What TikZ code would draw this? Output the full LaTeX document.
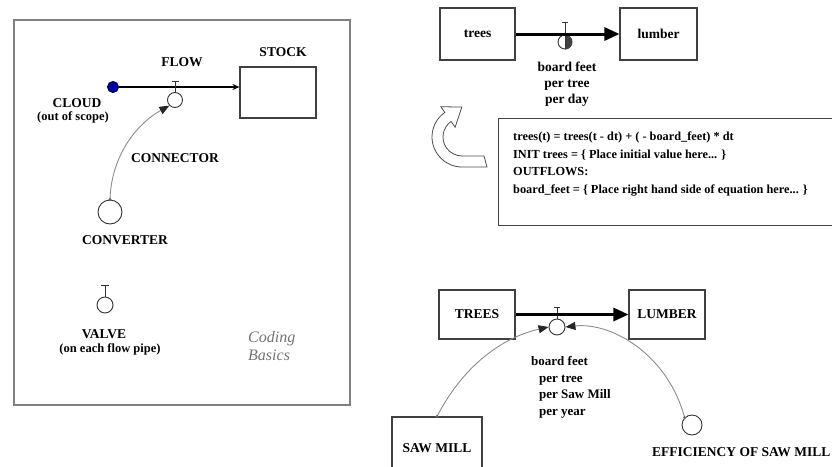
\documentclass[tikz,border=0pt]{standalone}
\usepackage{fontspec}
\setmainfont{Liberation Serif}
\usetikzlibrary{arrows.meta}

\begin{document}
\begin{tikzpicture}[x=1pt, y=1pt,
  every node/.style={font=\bfseries\fontsize{13.5}{15}\selectfont, inner sep=0pt},
  smalltext/.style={font=\bfseries\fontsize{12.5}{14}\selectfont},
  stockbox/.style={draw=black!75, line width=1.1pt},
  valve/.style={circle, draw=black!80, line width=0.9pt, fill=white},
  thinpipe/.style={line width=1.2pt, -{Stealth[length=7pt, width=6pt]}},
  fatpipe/.style={line width=3pt, -{Triangle[length=15pt, width=13pt]}},
  conn/.style={draw=black!45, line width=0.9pt, -{Triangle[length=10pt, width=8pt, color=black!85]}},
  tmark/.style={line width=1pt, black!80}]
\useasboundingbox (0,0) rectangle (832,-466);

% left panel: the symbols
\draw[black!50, line width=1.6pt] (14,-20) rectangle (350,-405);
\node[stockbox, minimum width=76, minimum height=51] (stock) at (278,-92.5) {};
\node (stocklbl) at (283,-52) {STOCK};
\node[circle, draw=blue!35!black, fill=blue!65!black, line width=1pt, minimum size=11] (cloud) at (113,-87) {};
\draw[thinpipe] (cloud.east) -- (cloud -| stock.west);
\node (flowlbl) at (182,-62) {FLOW};
\node[valve, minimum size=15] (valveA) at (175,-100) {};
\draw[tmark] (valveA.north) -- ++(0,10.5) ++(-3.5,0) -- ++(7,0);
\node (cloudlbl) at (77,-103) {CLOUD};
\node[smalltext] (scopelbl) at (73,-117) {(out of scope)};
\node[valve, minimum size=24] (conv) at (110,-212) {};
\node (connlbl) at (175,-158) {CONNECTOR};
\draw[conn] (conv.north) .. controls (111,-160) and (133,-126) .. (valveA.south west);
\fill[black!60] (conv.north) circle (1.6);
\node (convlbl) at (125,-240) {CONVERTER};
\node[valve, minimum size=16] (valveB) at (105,-305) {};
\draw[tmark] (valveB.north) -- ++(0,11) ++(-4,0) -- ++(8,0);
\node (valvelbl) at (104,-334) {VALVE};
\node[smalltext] (pipelbl) at (110,-349) {(on each flow pipe)};
\node[anchor=west, align=left, font=\itshape\fontsize{16}{18}\selectfont, text=black!55] (codinglbl) at (248,-346) {Coding\\Basics};

% top right: trees to lumber
\node[stockbox, minimum width=75, minimum height=52] (trees) at (477.5,-34) {trees};
\node[stockbox, minimum width=77, minimum height=52] (lumber) at (658.5,-34) {lumber};
\node[valve, minimum size=14] (valveC) at (565,-42) {};
\fill[black!75] (valveC.south) arc[start angle=-90, end angle=90, radius=7] -- cycle;
\draw[tmark] (valveC.south) -- ++(0,27) ++(-3,0) -- ++(6,0);
\draw[fatpipe] (trees.east) -- (lumber.west);
\node[align=center, font=\bfseries\fontsize{13.5}{16}\selectfont] (ratelblA) at (567,-84) {board feet\\per tree\\per day};

% the equation box and its arrow
\draw[black!70, line width=0.8pt] (487,-167) -- (462,-167) arc[start angle=270, end angle=125, radius=30]
  -- (440.8,-106.7) -- (461.8,-107.1) -- (455.1,-127.2) -- (451.1,-121.4)
  arc[start angle=125, end angle=270, radius=19] -- (484,-156) -- cycle;
\node[stockbox, anchor=north west, minimum width=345, minimum height=107] (eqbox) at (498,-118) {};
\node[anchor=west, align=left, font=\bfseries\fontsize{12.3}{17.5}\selectfont] (eqtext) at (513,-164)
  {trees(t) = trees(t - dt) + ( - board\_feet) * dt\\
   INIT trees = \{ Place initial value here... \}\\
   OUTFLOWS:\\
   board\_feet = \{ Place right hand side of equation here... \}};

% bottom right: TREES to LUMBER
\node[stockbox, minimum width=76, minimum height=49] (TREES) at (477,-314.5) {TREES};
\node[stockbox, minimum width=76, minimum height=49] (LUMBER) at (667,-314.5) {LUMBER};
\node[valve, minimum size=16] (valveD) at (557,-327) {};
\draw[tmark] (valveD.north) -- ++(0,11) ++(-3,0) -- ++(6,0);
\draw[fatpipe] (TREES.east) -- (LUMBER.west);
\node[anchor=north west, align=left, font=\bfseries\fontsize{13}{16.7}\selectfont] (ratelblB) at (539,-356)
  {\hspace*{-8pt}board feet\\per tree\\per Saw Mill\\per year};
\node[stockbox, minimum width=90, minimum height=63] (sawmill) at (437,-448.5) {SAW MILL};
\node[valve, minimum size=20] (effic) at (692,-425) {};
\node[anchor=west] (efficlbl) at (652,-452) {EFFICIENCY OF SAW MILL};
\draw[conn] (sawmill.north) .. controls (462,-368) and (500,-338) .. (valveD.west);
\fill[black!60] (sawmill.north) circle (1.6);
\draw[conn] (effic.north west) .. controls (668,-355) and (612,-322) .. (valveD.east);
\fill[black!60] (effic.north west) circle (1.6);
\end{tikzpicture}
\end{document}
